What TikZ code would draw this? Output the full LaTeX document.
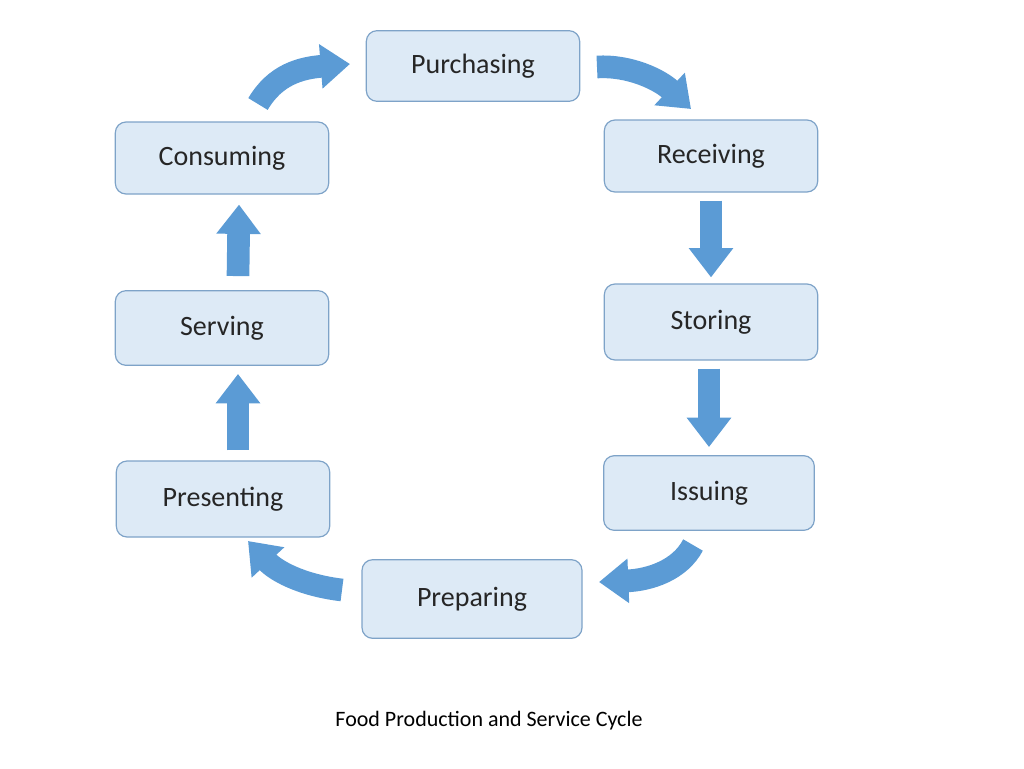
\documentclass[tikz,border=0pt]{standalone}
\usepackage{fontspec}
\setmainfont{Carlito}
\usetikzlibrary{arrows.meta,calc}
\definecolor{boxfill}{HTML}{DDEAF6}
\definecolor{boxline}{HTML}{7EA3C8}
\definecolor{arr}{HTML}{5B9BD5}
\begin{document}
\begin{tikzpicture}[x=0.75pt,y=-0.75pt,
  box/.style={draw=boxline,fill=boxfill,rounded corners=8pt,line width=0.9pt,minimum width=160pt,minimum height=53pt,font=\fontsize{21}{24}\selectfont,text=black!85},
  blk/.style={draw=arr,line width=17pt,-{Triangle[length=22pt,width=32pt]},arr}]
\useasboundingbox (0,0) rectangle (1024,768);
\node[box] (pur) at (473,66) {Purchasing};
\node[box,minimum height=54pt] (rec) at (711,156) {Receiving};
\node[box,minimum height=57pt] (sto) at (711,322) {Storing};
\node[box,minimum width=158pt,minimum height=56pt] (iss) at (709,493) {Issuing};
\node[box,minimum width=165pt,minimum height=59pt] (pre) at (472,599) {Preparing};
\node[box,minimum height=57pt] (prs) at (223,499) {Presenting};
\node[box,minimum height=56pt] (ser) at (222,328) {Serving};
\node[box,minimum height=54pt] (con) at (222,158) {Consuming};
\node[font=\fontsize{16.5}{19}\selectfont] (cap) at (489,721) {Food Production and Service Cycle};
% straight arrows
\draw[blk] ($(rec.south)+(0,8)$) -- ($(sto.north)+(0,-6)$);
\draw[blk] ($(sto.south)+(-2,8)$) -- ($(iss.north)+(0,-8)$);
\draw[blk] ($(prs.north)+(15,-10)$) -- ($(ser.south)+(16,8)$);
\draw[blk] ($(ser.north)+(16,-14)$) -- ($(con.south)+(17,10)$);
% curved arrows
\coordinate (c1) at (258,104); \coordinate (c2) at (350,64);
\coordinate (p1) at (597,67); \coordinate (p2) at (691,109);
\coordinate (i1) at (693,545); \coordinate (i2) at (599,582);
\coordinate (r1) at (342,590); \coordinate (r2) at (248,541);
\draw[blk] (c1) .. controls (275,75) and (300,68) .. (c2);
\draw[blk] (p1) .. controls (630,65) and (660,80) .. (p2);
\draw[blk] (i1) .. controls (680,570) and (650,580) .. (i2);
\draw[blk] (r1) .. controls (300,585) and (275,570) .. (r2);
\end{tikzpicture}
\end{document}
